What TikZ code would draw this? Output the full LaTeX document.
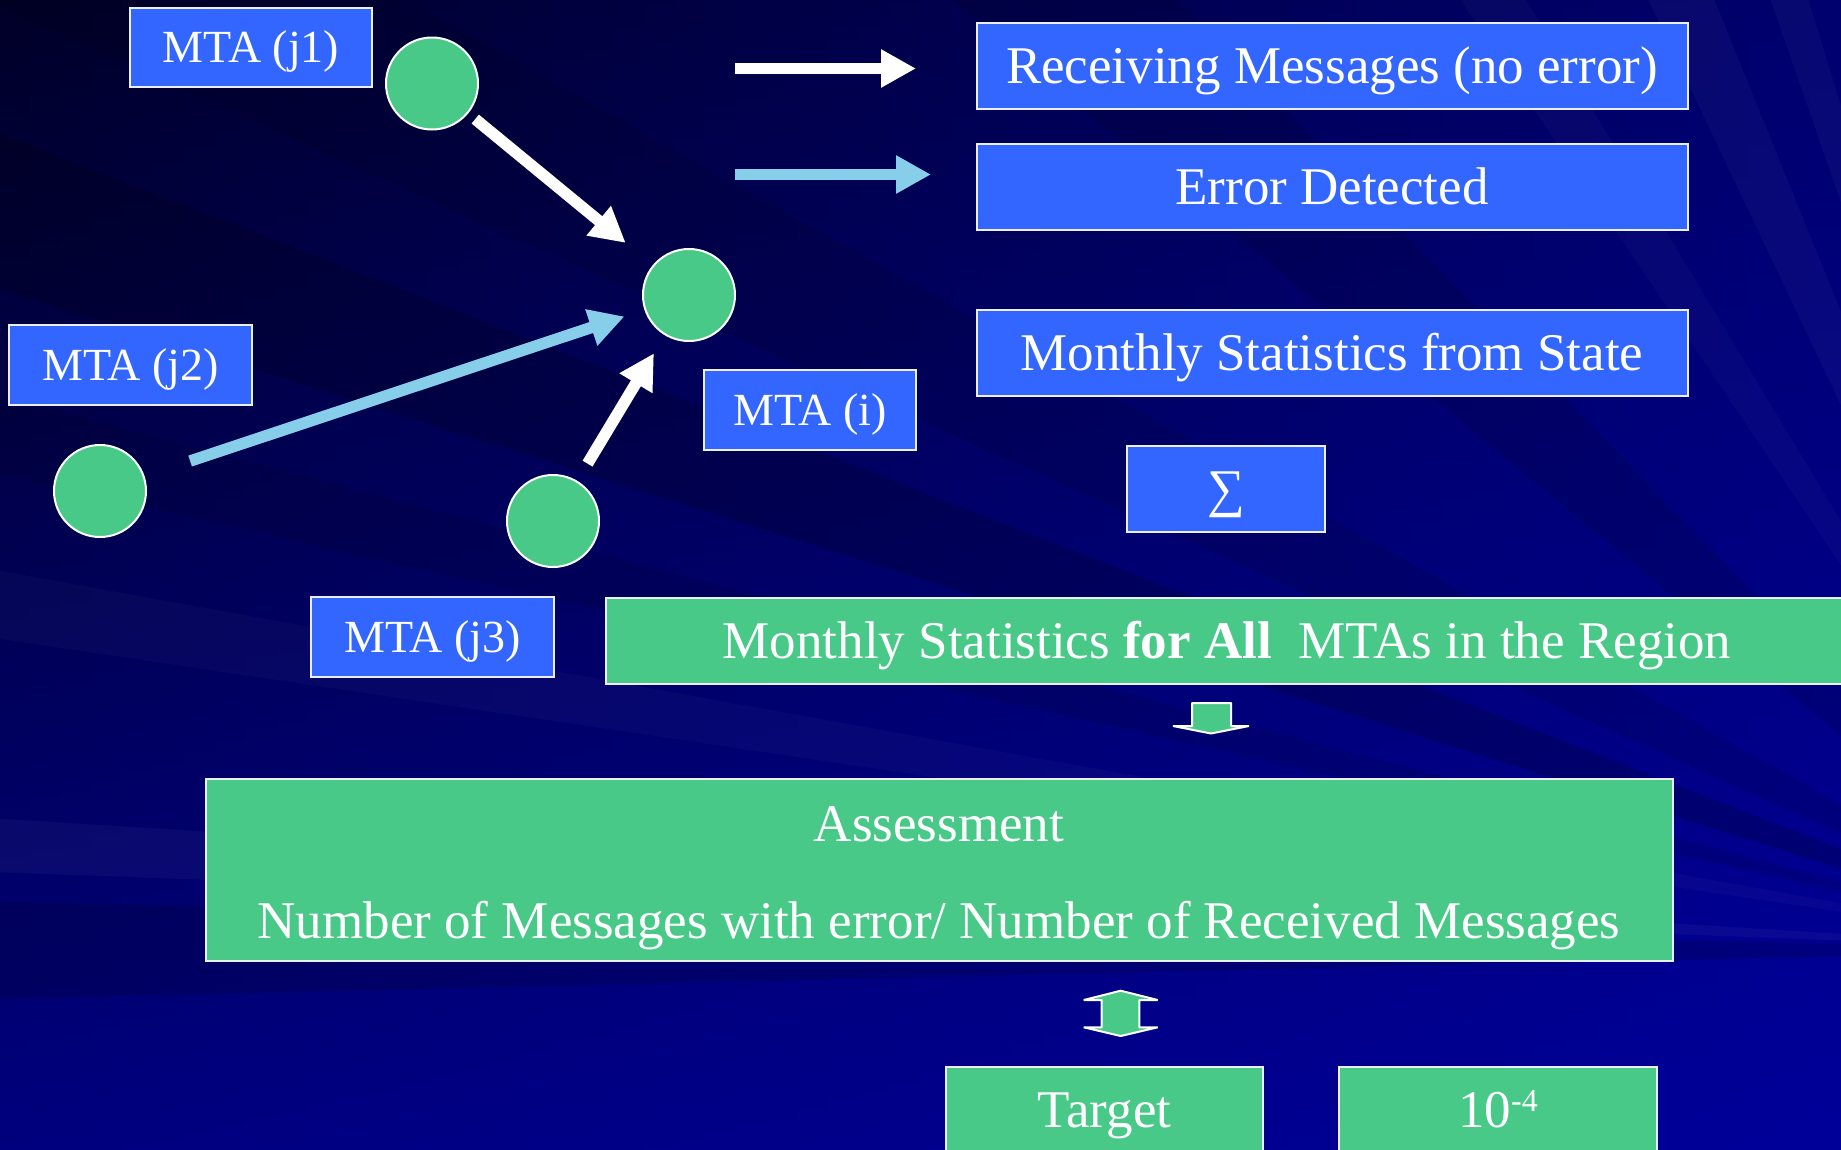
\documentclass[tikz,border=0pt]{standalone}
\usepackage{fontspec}
\setmainfont{Liberation Serif}
\usetikzlibrary{arrows.meta}

\definecolor{boxblue}{RGB}{51,102,255}
\definecolor{nodegreen}{RGB}{73,201,136}
\definecolor{skyarrow}{RGB}{135,206,235}
\definecolor{rim}{RGB}{236,238,248}
\definecolor{bgTL}{RGB}{0,0,40}
\definecolor{bgTR}{RGB}{0,0,110}
\definecolor{bgBL}{RGB}{0,0,126}
\definecolor{bgBR}{RGB}{0,0,153}

\newcommand\txtL{\fontsize{53pt}{60pt}\selectfont}
\newcommand\txtM{\fontsize{46pt}{52pt}\selectfont}

\tikzset{
  panel/.style={draw=rim, line width=2pt, inner sep=0pt, outer sep=0pt,
    text=white, font=\txtL, text height=40pt, text depth=5pt},
  bluebox/.style={panel, fill=boxblue},
  greenbox/.style={panel, fill=nodegreen},
  mtabox/.style={panel, fill=boxblue, font=\txtM, text height=35pt, text depth=5pt},
  mtanode/.style={circle, fill=nodegreen, draw=white, line width=2pt,
    minimum size=92pt, inner sep=0pt, outer sep=0pt},
  plaintext/.style={text=white, font=\txtL, inner sep=0pt},
  flow/.style={line width=11.5pt, -{Triangle[width=36pt,length=35pt]}},
  flowwhite/.style={flow, draw=white},
  flowsky/.style={flow, draw=skyarrow},
  blockarrow/.style={fill=nodegreen, draw=white, line width=2pt, line join=bevel},
  rayd/.style={fill=black, opacity=#1},
  rayl/.style={fill=white, opacity=#1},
}

\begin{document}
\begin{tikzpicture}[x=1pt, y=-1pt]
\useasboundingbox (0,0) rectangle (1841,1149);
\clip (0,0) rectangle (1841,1149);

% backdrop: bilinear blue gradient built from vertical strips
\foreach \k in {0,...,59} {
  \pgfmathsetmacro\xa{\k*30.6833}
  \pgfmathsetmacro\xb{(\k+1)*30.6833+1}
  \pgfmathtruncatemacro\p{round(\k*100/59)}
  \shade[top color=bgTR!\p!bgTL, bottom color=bgBR!\p!bgBL]
    (\xa,0) rectangle (\xb,1149);
}

% faint rays fanning out from a focus beyond the right edge
\coordinate (focus) at (2100,950);
\fill[rayd=.18] (focus) -- (-60,110) -- (-60,270) -- cycle;
\fill[rayd=.10] (focus) -- (-60,380) -- (-60,460) -- cycle;
\fill[rayl=.025] (focus) -- (-60,560) -- (-60,630) -- cycle;
\fill[rayl=.035] (focus) -- (-60,815) -- (-60,870) -- cycle;
\fill[rayd=.14] (focus) -- (-60,900) -- (-60,1000) -- cycle;
\fill[rayd=.12] (focus) -- (880,-60) -- (1120,-60) -- cycle;
\fill[rayl=.025] (focus) -- (1420,-60) -- (1490,-60) -- cycle;
\fill[rayl=.03] (focus) -- (1620,-60) -- (1690,-60) -- cycle;
\fill[rayl=.03] (focus) -- (1750,-60) -- (1790,-60) -- cycle;
\fill[rayd=.10] (focus) -- (300,-60) -- (-60,-20) -- cycle;

% MTA nodes
\node[mtanode] (cj1) at (432,83.5) {};
\node[mtanode] (ci)  at (689,295) {};
\node[mtanode] (cj2) at (100,491) {};
\node[mtanode] (cj3) at (553,521) {};

% MTA labels
\node[mtabox, minimum width=242pt, minimum height=79pt] (lj1) at (251,47.5) {MTA (j1)};
\node[mtabox, minimum width=243pt, minimum height=80pt] (lj2) at (130.5,365) {MTA (j2)};
\node[mtabox, minimum width=212pt, minimum height=80pt] (li)  at (810,410) {MTA (i)};
\node[mtabox, minimum width=243pt, minimum height=80pt] (lj3) at (432.5,637) {MTA (j3)};

% message flows into MTA (i)
\draw[flowwhite, shorten <=10pt, shorten >=36pt] (cj1) -- (ci);
\draw[flowsky,   shorten <=49pt, shorten >=22pt] (cj2) -- (ci);
\draw[flowwhite, shorten <=21pt, shorten >=22pt] (cj3) -- (ci);

% legend
\coordinate (okA) at (735,68.5);
\coordinate (okB) at (916,68.5);
\coordinate (erA) at (735,174.5);
\coordinate (erB) at (931,174.5);
\draw[flowwhite] (okA) -- (okB);
\draw[flowsky]   (erA) -- (erB);

\node[bluebox, minimum width=711pt, minimum height=86pt] (recv)  at (1332,66)    {Receiving Messages (no error)};
\node[bluebox, minimum width=711pt, minimum height=86pt] (errd)  at (1332,186.6) {Error Detected};
\node[bluebox, minimum width=711pt, minimum height=86pt] (state) at (1332,353)   {Monthly Statistics from State};
\node[bluebox, minimum width=198pt, minimum height=86pt] (sigma) at (1226,489)   {∑};

% regional statistics
\node[greenbox, minimum width=1242pt, minimum height=86pt] (allmta) at (1227,640.5)
  {Monthly Statistics \textbf{for All}\ \ MTAs in the Region};

\draw[blockarrow] (1192,703) -- (1231,703) -- (1231,726) -- (1249,726)
  -- (1211,733.5) -- (1173,726) -- (1192,726) -- cycle;

% assessment
\node[greenbox, minimum width=1467.5pt, minimum height=182pt] (assess) at (939.25,869.6) {};
\node[plaintext, anchor=base] (assessA) at (939,841) {Assessment};
\node[plaintext, anchor=base] (assessB) at (939,938)
  {Number of Messages with error/ Number of Received Messages};

\draw[blockarrow] (1120.7,990.7) -- (1157.7,1000) -- (1139.3,1000) -- (1139.3,1027.3)
  -- (1157.7,1027.3) -- (1120.7,1036) -- (1083.7,1027.3) -- (1101.7,1027.3)
  -- (1101.7,1000) -- (1083.7,1000) -- cycle;

% target
\node[greenbox, minimum width=317pt, minimum height=86pt] (target) at (1104.5,1110) {Target};
\node[greenbox, minimum width=318pt, minimum height=86pt] (goal) at (1498,1110)
  {10\raisebox{16pt}{\fontsize{32pt}{32pt}\selectfont -4}};
\end{tikzpicture}
\end{document}
